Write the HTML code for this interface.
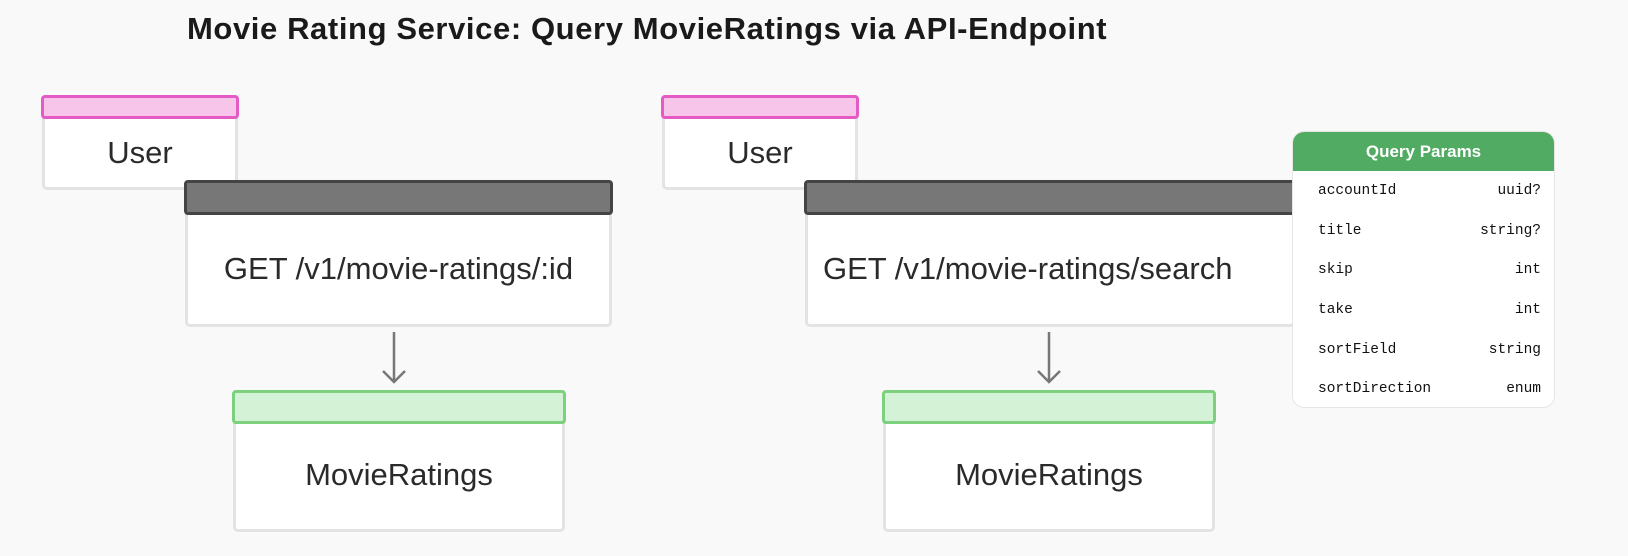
<!DOCTYPE html>
<html><head><style>
body{margin:0;width:1628px;height:556px;background:#f9f9f9;position:relative;overflow:hidden;font-family:"Liberation Sans",sans-serif;color:#222}
.a{position:absolute;box-sizing:border-box}
.card{background:#fff;border:3px solid #e3e3e3;border-radius:5px}
.hd{border-radius:4px;border:3px solid}
.pink{background:#f7c5e9;border-color:#e55bc6}
.dark{background:#777;border-color:#444}
.green{background:#d4f2d6;border-color:#7cd07e}
.lbl{display:flex;align-items:center;justify-content:center;font-size:31px;color:#2a2a2a}
.row{position:absolute;left:25px;right:13px;font-family:"Liberation Mono",monospace;font-size:14.5px;color:#111;display:flex;justify-content:space-between}
</style></head><body>
<div class="a" style="left:187px;top:11px;font-size:31px;font-weight:bold;letter-spacing:0.6px;color:#1a1a1a;white-space:nowrap">Movie Rating Service: Query MovieRatings via API-Endpoint</div>

<div class="a card lbl" style="left:42px;top:112px;width:196px;height:78px;padding-top:4px">User</div>
<div class="a hd pink" style="left:41px;top:95px;width:198px;height:24px"></div>

<div class="a card lbl" style="left:185px;top:210px;width:427px;height:117px">GET /v1/movie-ratings/:id</div>
<div class="a hd dark" style="left:184px;top:180px;width:429px;height:35px"></div>

<svg class="a" style="left:380px;top:330px" width="30" height="58"><line x1="14" y1="2" x2="14" y2="52" stroke="#777" stroke-width="2.5"/><polyline points="3,41 14,52 25,41" fill="none" stroke="#777" stroke-width="2.5"/></svg>

<div class="a card lbl" style="left:233px;top:418px;width:332px;height:114px">MovieRatings</div>
<div class="a hd green" style="left:232px;top:390px;width:334px;height:34px"></div>

<div class="a card lbl" style="left:662px;top:112px;width:196px;height:78px;padding-top:4px">User</div>
<div class="a hd pink" style="left:661px;top:95px;width:198px;height:24px"></div>

<div class="a card lbl" style="left:805px;top:210px;width:490px;height:117px;justify-content:flex-start;padding-left:15px">GET /v1/movie-ratings/search</div>
<div class="a hd dark" style="left:804px;top:180px;width:492px;height:35px"></div>

<svg class="a" style="left:1035px;top:330px" width="30" height="58"><line x1="14" y1="2" x2="14" y2="52" stroke="#777" stroke-width="2.5"/><polyline points="3,41 14,52 25,41" fill="none" stroke="#777" stroke-width="2.5"/></svg>

<div class="a card lbl" style="left:883px;top:418px;width:332px;height:114px">MovieRatings</div>
<div class="a hd green" style="left:882px;top:390px;width:334px;height:34px"></div>

<div class="a" style="left:1292px;top:131px;width:263px;height:277px;background:#fff;border:1px solid #e6e6e6;border-radius:12px;overflow:hidden">
<div style="height:39px;background:#52ab63;color:#fff;font-weight:bold;font-size:17px;display:flex;align-items:center;justify-content:center">Query Params</div>
<div class="row" style="top:51px"><span>accountId</span><span>uuid?</span></div>
<div class="row" style="top:91px"><span>title</span><span>string?</span></div>
<div class="row" style="top:130px"><span>skip</span><span>int</span></div>
<div class="row" style="top:170px"><span>take</span><span>int</span></div>
<div class="row" style="top:210px"><span>sortField</span><span>string</span></div>
<div class="row" style="top:249px"><span>sortDirection</span><span>enum</span></div>
</div>
</body></html>
